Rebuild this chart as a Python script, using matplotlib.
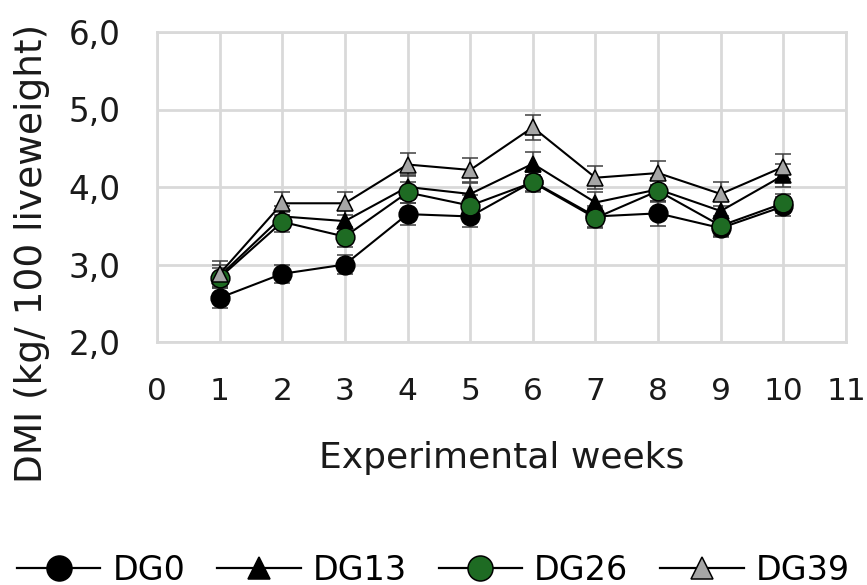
import numpy as np
import matplotlib.pyplot as plt
from matplotlib.ticker import FuncFormatter

plt.rcParams['font.family'] = ['DejaVu Sans']

weeks = [1, 2, 3, 4, 5, 6, 7, 8, 9, 10]

dg0 = [2.57, 2.88, 3.00, 3.65, 3.62, 4.07, 3.62, 3.66, 3.47, 3.75]
dg13 = [2.85, 3.62, 3.56, 4.00, 3.91, 4.30, 3.80, 3.97, 3.69, 4.15]
dg26 = [2.83, 3.55, 3.36, 3.93, 3.76, 4.06, 3.60, 3.95, 3.50, 3.79]
dg39 = [2.88, 3.79, 3.79, 4.29, 4.22, 4.77, 4.12, 4.18, 3.91, 4.26]

err0 = [0.13, 0.12, 0.12, 0.14, 0.14, 0.12, 0.13, 0.16, 0.12, 0.12]
err13 = [0.14, 0.14, 0.14, 0.15, 0.14, 0.15, 0.14, 0.15, 0.14, 0.15]
err26 = [0.13, 0.13, 0.13, 0.14, 0.14, 0.13, 0.13, 0.14, 0.13, 0.12]
err39 = [0.16, 0.15, 0.15, 0.15, 0.15, 0.16, 0.15, 0.16, 0.15, 0.16]

series = [
    ('DG0', dg0, err0, 'o', 'black'),
    ('DG13', dg13, err13, '^', 'black'),
    ('DG26', dg26, err26, 'o', '#1e6b23'),
    ('DG39', dg39, err39, '^', '#a6a6a6'),
]

W, H = 867, 585
fig = plt.figure(figsize=(W / 100, H / 100), dpi=100)
ax = fig.add_axes([157 / W, 1 - 342 / H, (846 - 157) / W, (342 - 32) / H])

legend_lines = []
for name, vals, errs, mk, col in series:
    ms = 13.5 if mk == 'o' else 12
    ax.errorbar(weeks, vals, yerr=errs, color='black', linewidth=1.5,
                marker=mk, markersize=ms, markerfacecolor=col,
                markeredgecolor='black', markeredgewidth=1.1,
                ecolor='#404040', elinewidth=1.1, capsize=5.5, capthick=1.5)
    # legend proxy: line + bigger marker, no error bar
    ln, = ax.plot([], [], color='black', linewidth=1.6, marker=mk,
                  markersize=18 if mk == 'o' else 16, markerfacecolor=col,
                  markeredgecolor='black', markeredgewidth=1.1, label=name)
    legend_lines.append(ln)

ax.set_xlim(0, 11)
ax.set_ylim(2, 6)
ax.set_xticks(np.arange(0, 12, 1))
ax.set_yticks(np.arange(2, 6.5, 1))
ax.yaxis.set_major_formatter(FuncFormatter(lambda v, p: f'{v:.1f}'.replace('.', ',')))
ax.tick_params(length=0, colors='#1a1a1a')
ax.tick_params(axis='x', pad=25, labelsize=22.5)
ax.tick_params(axis='y', pad=26.5, labelsize=23.5)
ax.grid(True, color='#d9d9d9', linewidth=2)
ax.set_axisbelow(True)
for s in ax.spines.values():
    s.set_color('#d9d9d9')
    s.set_linewidth(2)

ax.set_xlabel('Experimental weeks', fontsize=26, color='#1a1a1a', va='top')
ax.xaxis.set_label_coords(0.5, (342 - 441) / 310)
ax.set_ylabel('DMI (kg/ 100 liveweight)', fontsize=27, color='#1a1a1a')
ax.yaxis.set_label_coords((50 - 157) / 689, (342 - 253) / 310)

fig.legend(handles=legend_lines, loc='center', bbox_to_anchor=(0.5, 1 - 570 / H),
           ncol=4, frameon=False, fontsize=24, handlelength=2.5, columnspacing=0.96,
           handletextpad=0.36, borderaxespad=0, borderpad=0)

fig.savefig('out.png', dpi=100)
